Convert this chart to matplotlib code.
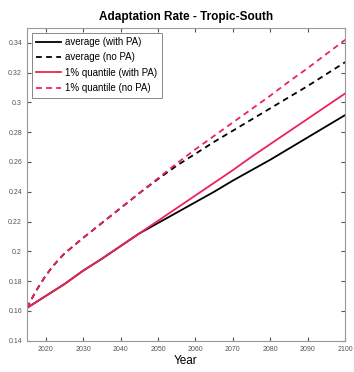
import numpy as np
import matplotlib
matplotlib.use("Agg")
import matplotlib.pyplot as plt

plt.rcParams['font.family'] = ['Liberation Sans', 'DejaVu Sans']

# values
years_dash = [2015, 2016, 2017, 2018, 2020, 2022, 2025, 2030, 2035, 2040, 2045, 2050,
              2055, 2060, 2065, 2070, 2075, 2080, 2085, 2090, 2095, 2100]
avg_nopa = [0.162, 0.1668, 0.1714, 0.1757, 0.1836, 0.1903, 0.1985, 0.209, 0.219, 0.229, 0.239, 0.2485,
            0.2575, 0.2655, 0.2735, 0.281, 0.2885, 0.296, 0.3035, 0.311, 0.319, 0.327]
q1_nopa = [0.162, 0.1668, 0.1714, 0.1757, 0.1836, 0.1903, 0.1985, 0.209, 0.219, 0.229, 0.239, 0.249,
           0.259, 0.2685, 0.2775, 0.2865, 0.2955, 0.3045, 0.314, 0.323, 0.3325, 0.342]

years = [2015, 2020, 2025, 2030, 2035, 2040, 2045, 2050, 2055, 2060,
         2065, 2070, 2075, 2080, 2085, 2090, 2095, 2100]
avg_pa = [0.162, 0.170, 0.178, 0.187, 0.195, 0.2035, 0.212, 0.219, 0.226, 0.233,
          0.240, 0.2475, 0.2545, 0.2615, 0.269, 0.2765, 0.284, 0.2915]
q1_pa = [0.162, 0.170, 0.178, 0.187, 0.195, 0.2035, 0.212, 0.2205, 0.229, 0.2375,
         0.246, 0.2545, 0.2635, 0.272, 0.2805, 0.289, 0.2975, 0.306]

yticks = [0.14, 0.16, 0.18, 0.2, 0.22, 0.24, 0.26, 0.28, 0.3, 0.32, 0.34]
ytick_labels = ['0.14', '0.16', '0.18', '0.2', '0.22', '0.24', '0.26', '0.28', '0.3', '0.32', '0.34']
xticks = [2020, 2030, 2040, 2050, 2060, 2070, 2080, 2090, 2100]

red = '#ee2255'

fig = plt.figure(figsize=(3.54, 3.72), dpi=100)
ax = fig.add_axes([0.076, 0.084, 0.899, 0.841])

ax.plot(years, avg_pa, '-', color='black', lw=1.3, label='average (with PA)')
ax.plot(years_dash, avg_nopa, '--', color='black', lw=1.3, dashes=(3.2, 2.4), label='average (no PA)')
ax.plot(years, q1_pa, '-', color=red, lw=1.3, label='1% quantile (with PA)')
ax.plot(years_dash, q1_nopa, '--', color=red, lw=1.3, dashes=(3.2, 2.4), label='1% quantile (no PA)')

ax.set_xlim(2015, 2100)
ax.set_ylim(0.14, 0.35)
ax.set_xticks(xticks)
ax.set_yticks(yticks)
ax.set_yticklabels(ytick_labels)
ax.tick_params(direction='in', length=3, labelsize=5, colors='#555555', top=True, right=True)
for s in ax.spines.values():
    s.set_color('#999999')
    s.set_linewidth(0.8)

ax.set_title('Adaptation Rate - Tropic-South', fontsize=8.5, fontweight='bold', pad=6)
ax.set_xlabel('Year', fontsize=8.5, labelpad=2)

leg = ax.legend(loc='upper left', fontsize=7, handlelength=2.6, handletextpad=0.4,
                borderpad=0.45, labelspacing=0.55, fancybox=False, framealpha=1,
                borderaxespad=0.5)
leg.get_frame().set_edgecolor('#888888')
leg.get_frame().set_linewidth(0.7)

fig.savefig('out.png', dpi=100)
